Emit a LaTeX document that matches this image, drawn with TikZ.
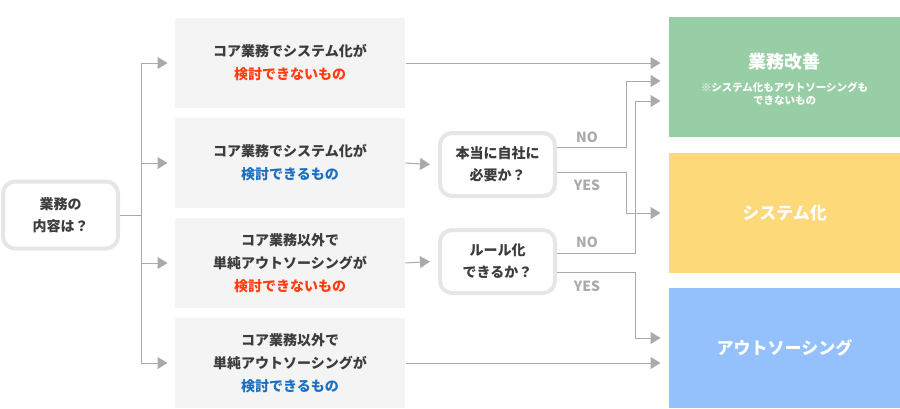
\documentclass[tikz,border=0pt]{standalone}
\usepackage{fontspec}
\setmainfont{Noto Sans CJK JP}
\usetikzlibrary{arrows.meta,positioning,calc}
\definecolor{boxgray}{HTML}{F4F4F4}
\definecolor{rimgray}{HTML}{E6E6E6}
\definecolor{linegray}{HTML}{AAAAAA}
\definecolor{txtgray}{HTML}{3C3C3C}
\definecolor{ngred}{HTML}{FF3D12}
\definecolor{okblue}{HTML}{1B6FC0}
\definecolor{kaizengreen}{HTML}{98CEA5}
\definecolor{sysyellow}{HTML}{FDD97A}
\definecolor{outblue}{HTML}{94C1FB}
\tikzset{every picture/.style={line width=1pt}}
\tikzset{
    casebox/.style={fill=boxgray, minimum width=230pt, minimum height=90pt, align=center,
        text=txtgray, font=\fontsize{14}{23}\selectfont\bfseries},
    askbox/.style={draw=rimgray, line width=4pt, rounded corners=12pt, fill=white,
        minimum width=115pt, align=center, text=txtgray, font=\fontsize{14}{22}\selectfont\bfseries},
    resbox/.style={minimum width=231pt, minimum height=120pt, align=center, text=white},
    flow/.style={draw=linegray},
    flowarr/.style={draw=linegray, -{Triangle[length=10pt,width=12pt,color=linegray]}},
    yn/.style={text=linegray, font=\fontsize{14}{14}\selectfont\bfseries}
}

\begin{document}
\begin{tikzpicture}[x=1pt,y=-1pt]
    \useasboundingbox (0,0) rectangle (900,408);

    % 入口
    \node[askbox, minimum height=67pt] (q) at (60.5,215) {業務の\\内容は？};

    % 業務の分類
    \node[casebox] (c1) at (290,63) {コア業務でシステム化が\\\textcolor{ngred}{検討できないもの}};
    \node[casebox] (c2) at (290,163) {コア業務でシステム化が\\\textcolor{okblue}{検討できるもの}};
    \node[casebox] (c3) at (290,263) {コア業務以外で\\単純アウトソーシングが\\\textcolor{ngred}{検討できないもの}};
    \node[casebox] (c4) at (290,363) {コア業務以外で\\単純アウトソーシングが\\\textcolor{okblue}{検討できるもの}};

    % 判断
    \node[askbox, minimum height=63pt] (d1) at (497.5,164.5) {本当に自社に\\必要か？};
    \node[askbox, minimum height=63pt] (d2) at (497.5,261.5) {ルール化\\できるか？};

    % 結果
    \node[resbox, fill=kaizengreen] (kaizen) at (784.5,77) {};
    \node[text=white, font=\fontsize{18}{18}\selectfont\bfseries] (kaizenT) at (784.5,62) {業務改善};
    \node[text=white, align=center, font=\fontsize{10.5}{12.5}\selectfont\bfseries] (kaizenN) at (784.5,94)
        {※システム化もアウトソーシングも\\できないもの};
    \node[resbox, fill=sysyellow, font=\fontsize{17}{17}\selectfont\bfseries] (sysbox) at (784.5,213) {システム化};
    \node[resbox, fill=outblue, font=\fontsize{17}{17}\selectfont\bfseries] (outsrc) at (784.5,348) {アウトソーシング};

    % 入口から分類へ
    \draw[flow] (q.east) -- (141,215) coordinate (trunk);
    \draw[flow] (c1.west -| trunk) -- (c4.west -| trunk);
    \foreach \c in {c1,c2,c3,c4}
        \draw[flowarr] (\c.west -| trunk) -- ([xshift=-7pt]\c.west);

    % 分類から判断・結果へ
    \coordinate (kin2) at ([xshift=-8pt]kaizen.west |- 0,81);
    \coordinate (kin3) at ([xshift=-8pt]kaizen.west |- 0,101);
    \coordinate (oin) at ([xshift=-8pt]outsrc.west |- 0,338);
    \draw[flowarr] (c1.east) -- ([xshift=-8pt]kaizen.west |- c1.east);
    \draw[flowarr] (c2.east) -- ([xshift=-8pt]d1.west);
    \draw[flowarr] (c3.east) -- ([xshift=-8pt]d2.west);
    \draw[flowarr] (c4.east) -- ([xshift=-8pt]outsrc.west |- c4.east);

    % 判断の分岐
    \draw[flowarr] ([yshift=17.5pt]d1.east) -- ++(69,0) |- (kin2);
    \draw[flowarr] ([yshift=-7.5pt]d1.east) -- ++(69,0) |- ([xshift=-8pt]sysbox.west);
    \draw[flowarr] ([yshift=8.5pt]d2.east) -- ++(78,0) |- (kin3);
    \draw[flowarr] ([yshift=-10.5pt]d2.east) -- ++(78,0) |- (oin);

    % NO / YES
    \node[yn] (no1) at (587,137) {NO};
    \node[yn] (yes1) at (587,185) {YES};
    \node[yn] (no2) at (587,242) {NO};
    \node[yn] (yes2) at (587,286) {YES};
\end{tikzpicture}
\end{document}
